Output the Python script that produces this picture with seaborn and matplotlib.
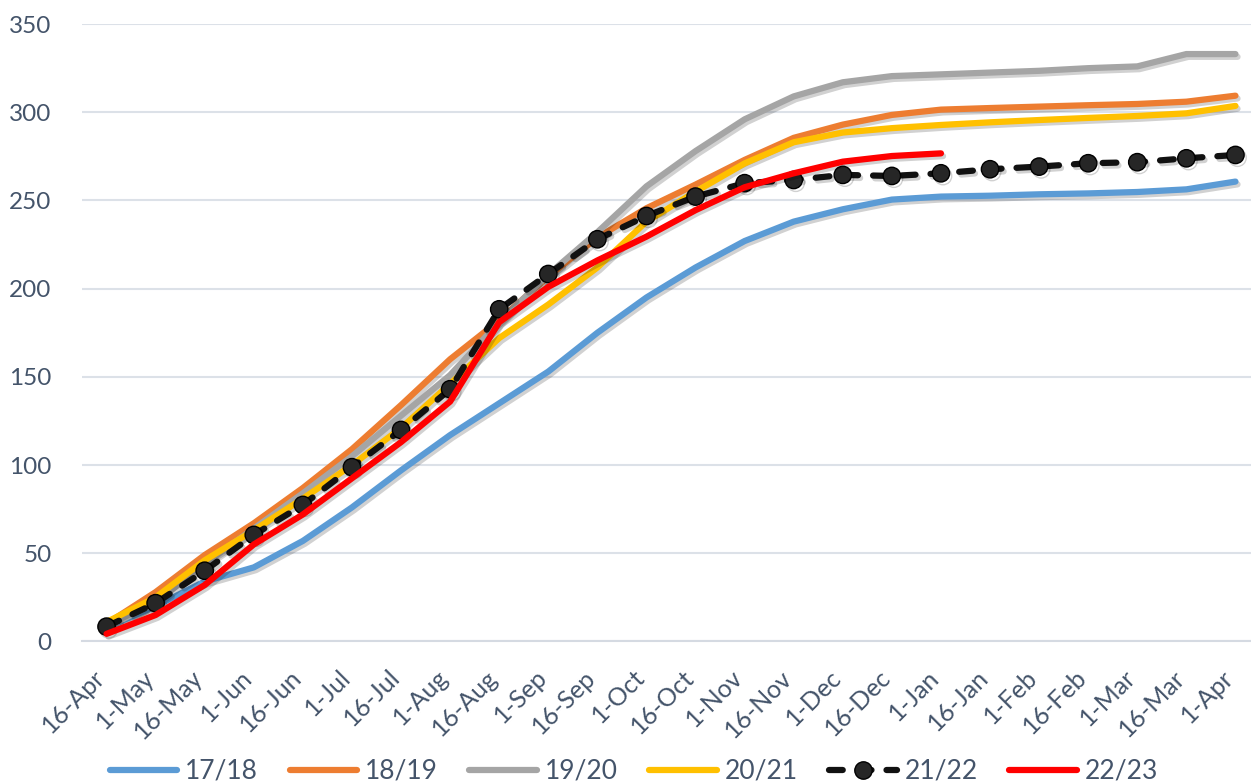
import numpy as np
import pandas as pd
import matplotlib
matplotlib.use("Agg")
import matplotlib.pyplot as plt
import matplotlib.patheffects as pe
from matplotlib.lines import Line2D
import seaborn as sns

categories = ["16-Apr", "1-May", "16-May", "1-Jun", "16-Jun", "1-Jul", "16-Jul", "1-Aug",
              "16-Aug", "1-Sep", "16-Sep", "1-Oct", "16-Oct", "1-Nov", "16-Nov", "1-Dec",
              "16-Dec", "1-Jan", "16-Jan", "1-Feb", "16-Feb", "1-Mar", "16-Mar", "1-Apr"]

s1718 = [8, 20, 34, 42, 57, 76, 97, 117, 135, 153, 175, 195, 212, 227, 238, 245,
         250.5, 252.2, 252.7, 253.5, 254, 254.8, 256.3, 260.7]
s1819 = [10, 28, 49, 67, 87, 109, 134, 160, 182, 207, 229, 245.6, 259, 273, 285.5, 293,
         298.5, 301.5, 302.4, 303.2, 304, 304.7, 306, 309.4]
s1920 = [8, 22, 44, 64, 84, 105, 128, 151, 181, 208, 232, 258, 278, 296, 309, 317,
         320.5, 321.5, 322.5, 323.5, 325, 326, 333, 333]
s2021 = [11, 25, 46, 63, 81, 100, 121, 146, 172, 191, 212, 238, 255, 271, 283, 288.5,
         291, 292.8, 294.3, 295.6, 296.8, 297.9, 299.4, 303.6]
s2122 = [8.4, 21.7, 40.1, 60.4, 77.4, 98.8, 119.9, 143, 188.3, 208.3, 228, 241.2, 252.2,
         259.8, 261.6, 264.5, 263.9, 265.4, 267.7, 269.2, 271.1, 271.7, 273.9, 275.8]
s2223 = [4.3, 15, 32, 55, 72, 92.5, 113, 136, 181, 201, 216, 229.5, 244.5, 257.5, 265.4,
         272, 275.2, 276.7] + [np.nan] * 6

series_names = ["17/18", "18/19", "19/20", "20/21", "21/22", "22/23"]
series_values = [s1718, s1819, s1920, s2021, s2122, s2223]
colors = ["#5B9BD5", "#ED7D31", "#A5A5A5", "#FFC000", "#111111", "#FF0000"]

sns.set_theme(style="white")
plt.rcParams["font.family"] = ["Lato", "DejaVu Sans"]

text_color = "#44546A"
grid_color = "#DCE1E8"

fig = plt.figure(figsize=(12.51, 7.84), dpi=100)
ax = fig.add_axes([82 / 1251, 0.1818, (1260 - 82) / 1251, 0.7875])

pos = np.arange(len(categories))
shadow = [pe.SimpleLineShadow(offset=(1.5, -2.0), shadow_color="black", alpha=0.18),
          pe.Normal()]

handles = []
for name, vals, col in zip(series_names, series_values, colors):
    df = pd.DataFrame({"x": pos, "y": vals}).dropna()
    if name == "21/22":
        sns.lineplot(data=df, x="x", y="y", ax=ax, color=col, lw=4.5, sort=False,
                     marker="o", markersize=12.5, markerfacecolor="#262626",
                     markeredgecolor="#000000", markeredgewidth=1.0,
                     dashes=False, legend=False)
        ln = ax.lines[-1]
        ln.set_dashes((2.2, 2.4))
        ln.set_dash_capstyle("round")
        ln.set_path_effects(shadow)
        h = Line2D([], [], color=col, lw=4.5, marker="o", markersize=12.5,
                   markerfacecolor="#262626", markeredgecolor="#000000",
                   dashes=(2.2, 2.4), dash_capstyle="round")
    else:
        sns.lineplot(data=df, x="x", y="y", ax=ax, color=col, lw=4.5, sort=False,
                     legend=False)
        ln = ax.lines[-1]
        ln.set_solid_capstyle("round")
        ln.set_path_effects(shadow)
        h = Line2D([], [], color=col, lw=4.5, solid_capstyle="round")
    handles.append(h)

ax.set_xlim(-0.5, len(categories) - 0.5)
ax.set_ylim(0, 350)
ax.set_yticks(np.arange(0, 351, 50))
ax.set_xticks(pos)
ax.set_xticklabels(categories, rotation=45, ha="right", rotation_mode="anchor",
                   va="baseline")
ax.set_xticks(np.arange(-0.5, len(categories), 1.0), minor=True)
ax.set_xlabel("")
ax.set_ylabel("")

ax.grid(axis="y", color=grid_color, lw=1.5)
ax.grid(axis="x", visible=False)
ax.set_axisbelow(True)
for s in ["top", "right", "left"]:
    ax.spines[s].set_visible(False)
ax.spines["bottom"].set_color("#D5DAE2")
ax.spines["bottom"].set_linewidth(1.5)

ax.tick_params(axis="y", length=0, pad=22, labelsize=17.5, labelcolor=text_color)
ax.tick_params(axis="x", which="major", length=0, pad=27, labelsize=18,
               labelcolor=text_color)
ax.tick_params(axis="x", which="minor", length=7, width=1.5, color="#D5DAE2")

fig.legend(handles, series_names, loc="center", bbox_to_anchor=(634 / 1251, 12.5 / 784),
           ncol=6, frameon=False, fontsize=19, labelcolor=text_color,
           handlelength=2.55, handletextpad=0.3, columnspacing=1.2)

fig.savefig("out.png", dpi=100)
